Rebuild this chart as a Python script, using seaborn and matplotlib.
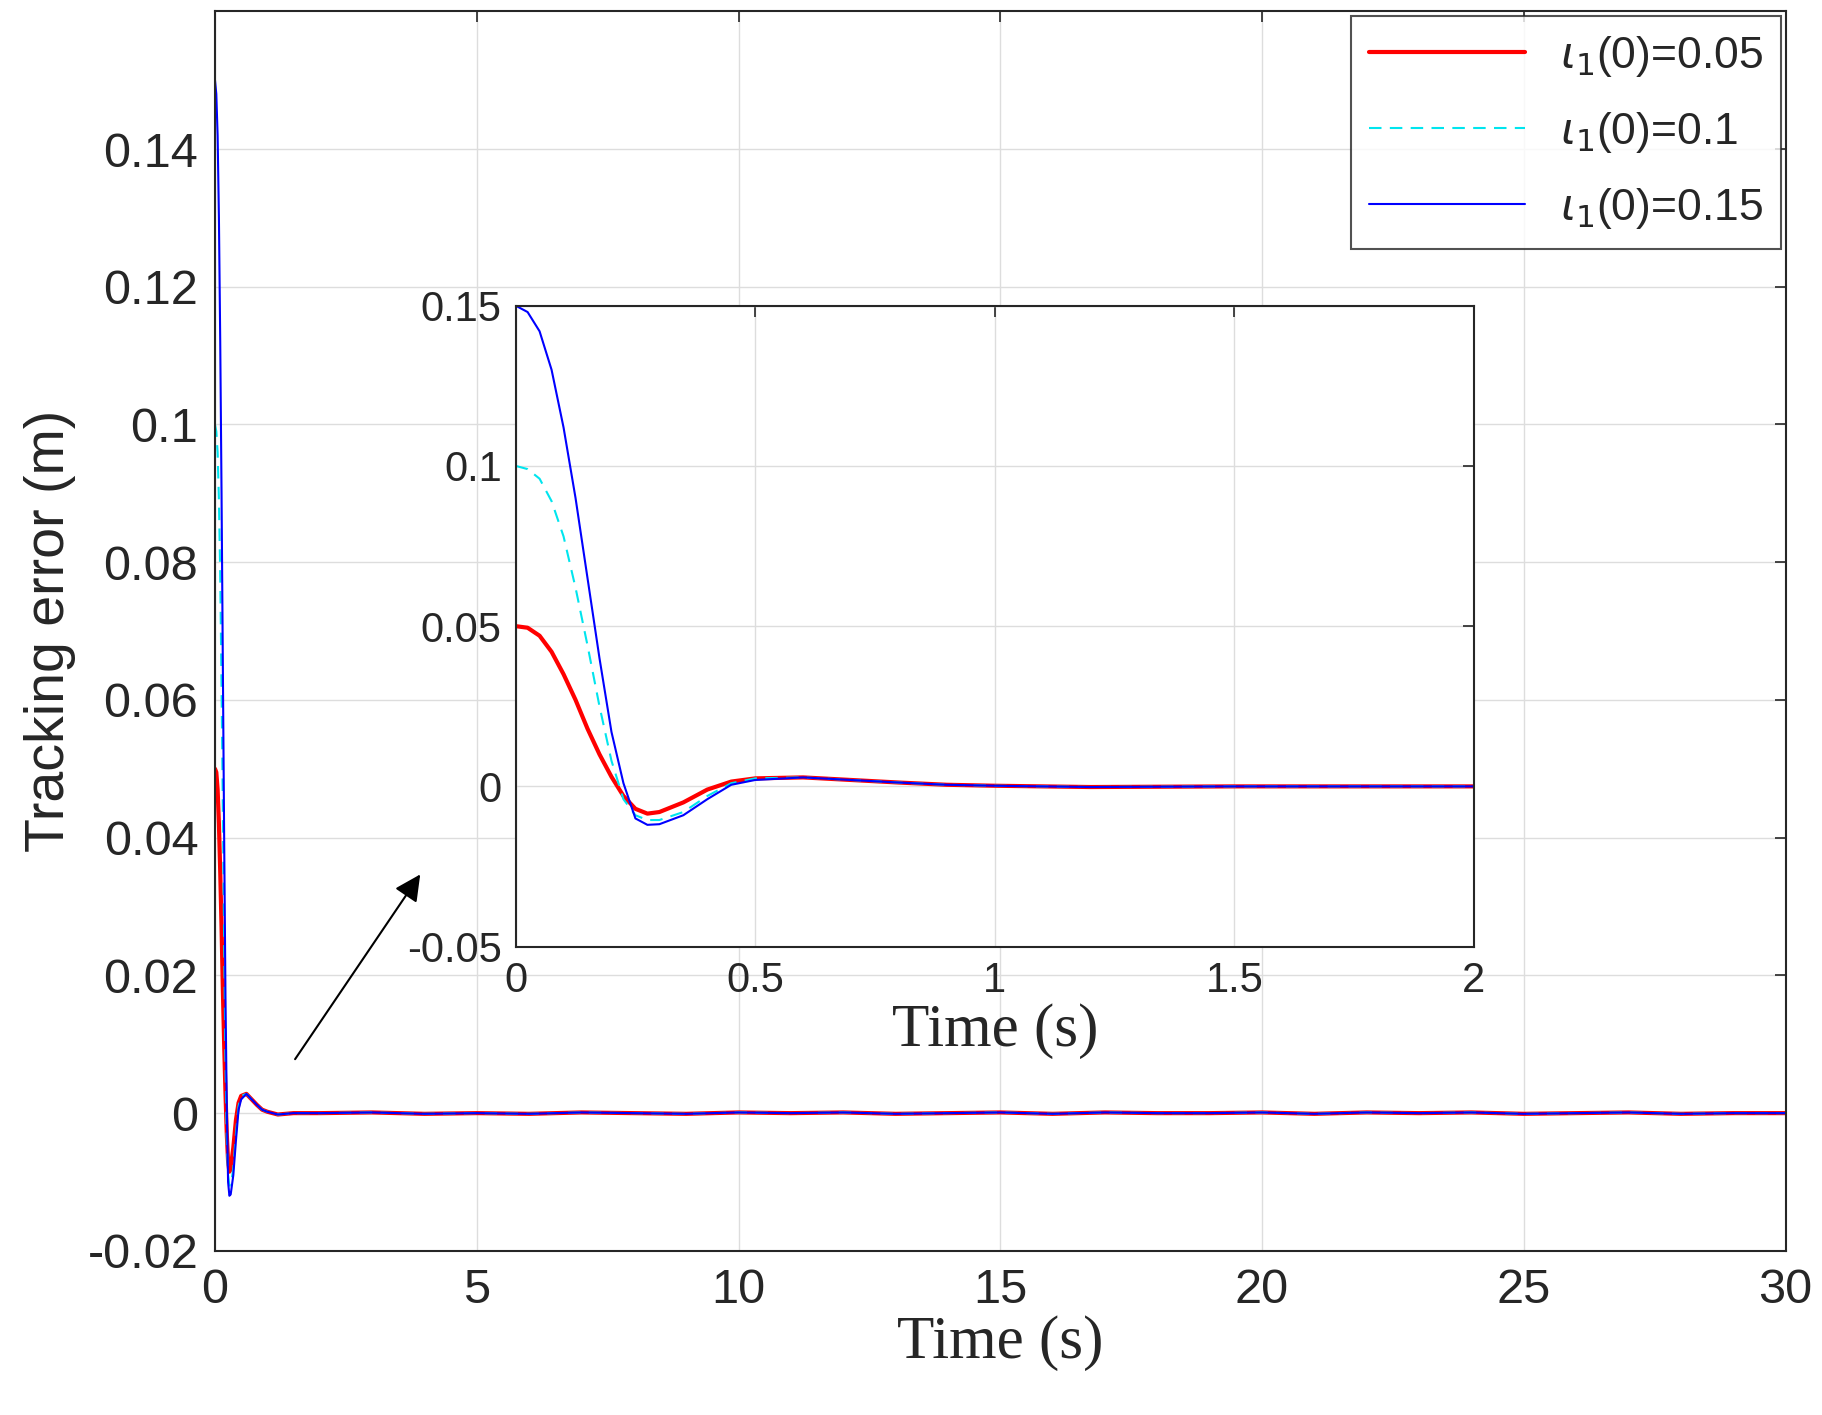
import matplotlib.pyplot as plt
import numpy as np
import pandas as pd
import seaborn as sns

# ====================================
# STYLE
# ====================================

sns.set_style('white')

plt.rcParams['font.family'] = ['Liberation Sans', 'DejaVu Sans']

plt.rcParams['mathtext.fontset'] = 'dejavusans'

# ====================================
# DATA
# ====================================

t_head = [0, 0.025, 0.05, 0.075, 0.1, 0.125, 0.15, 0.175, 0.2, 0.225, 0.25,
          0.275, 0.3, 0.35, 0.4, 0.45, 0.5, 0.6, 0.7, 0.8, 0.9, 1.0, 1.2,
          1.5, 2.0]

red_head = [0.05, 0.0495, 0.047, 0.042, 0.035, 0.027, 0.018, 0.010, 0.003,
            -0.003, -0.007, -0.0085, -0.008, -0.005, -0.001, 0.0015, 0.0025,
            0.0028, 0.002, 0.0012, 0.0005, 0.0002, -0.0002, 0.0, 0.0]

cyan_head = [0.1, 0.099, 0.096, 0.089, 0.078, 0.062, 0.044, 0.025, 0.008,
             -0.004, -0.009, -0.0105, -0.0105, -0.008, -0.003, 0.001, 0.0025,
             0.0028, 0.002, 0.0012, 0.0005, 0.0002, -0.0002, 0.0, 0.0]

blue_head = [0.15, 0.148, 0.142, 0.130, 0.112, 0.090, 0.065, 0.040, 0.017,
             0.001, -0.010, -0.012, -0.0118, -0.009, -0.004, 0.0005, 0.002,
             0.0028, 0.002, 0.0012, 0.0005, 0.0002, -0.0002, 0.0, 0.0]

t_tail = list(range(3, 31))

tail = [0.0001, -0.0001, 0.0, -0.0001, 0.0001, 0.0, -0.0001, 0.0001,
        0.0, 0.0001, -0.0001, 0.0, 0.0001, -0.0001, 0.0001, 0.0,
        0.0, 0.0001, -0.0001, 0.0001, 0.0, 0.0001, -0.0001, 0.0,
        0.0001, -0.0001, 0.0, 0.0]

labels = [r'$\iota_1$(0)=0.05', r'$\iota_1$(0)=0.1', r'$\iota_1$(0)=0.15']

frames = []

for lab, vals in zip(labels, [red_head, cyan_head, blue_head]):

    frames.append(pd.DataFrame({
        'Time': t_head + t_tail,
        'Error': vals + tail,
        'Case': lab
    }))

df = pd.concat(frames, ignore_index=True)

palette = {labels[0]: '#ff0000', labels[1]: '#00e5ee', labels[2]: '#0000ff'}

widths = {labels[0]: 3.0, labels[1]: 1.5, labels[2]: 1.5}

styles = {labels[0]: '-', labels[1]: (0, (6, 4)), labels[2]: '-'}

# ====================================
# MAIN PLOT
# ====================================

fig = plt.figure(figsize=(18.22, 14.15), dpi=100)

ax = fig.add_axes([0.118, 0.116, 0.862, 0.876])

for lab in labels:

    sns.lineplot(data=df[df['Case'] == lab], x='Time', y='Error',
                 color=palette[lab], linewidth=widths[lab],
                 linestyle=styles[lab], label=lab, ax=ax)

ax.set_xlim(0, 30)

ax.set_ylim(-0.02, 0.16)

ax.set_xticks(range(0, 31, 5))

ax.set_yticks([-0.02, 0, 0.02, 0.04, 0.06, 0.08, 0.1, 0.12, 0.14])

ax.set_yticklabels(['-0.02', '0', '0.02', '0.04', '0.06', '0.08', '0.1',
                    '0.12', '0.14'])

ax.tick_params(labelsize=35, direction='in', top=True, right=True,
               length=8, width=1.2, pad=12)

ax.grid(True, color='#dddddd', linewidth=1)

ax.set_xlabel('Time (s)', fontsize=44, family='Liberation Serif',
              labelpad=2)

ax.set_ylabel('Tracking error (m)', fontsize=40, labelpad=8)

for s in ax.spines.values():

    s.set_linewidth(1.5)

    s.set_color('#262626')

leg = ax.legend(loc='upper right', fontsize=32, fancybox=False,
                edgecolor='#262626', handlelength=3.5, borderaxespad=0.1,
                labelspacing=0.7)

leg.get_frame().set_linewidth(1.5)

ax.annotate('', xy=(3.95, 0.035), xytext=(1.5, 0.0075),
            arrowprops=dict(arrowstyle='-|>', color='black', lw=1.5,
                            mutation_scale=40))

# ====================================
# INSET
# ====================================

inset = fig.add_axes([0.283, 0.331, 0.526, 0.453])

for lab in labels:

    sub = df[(df['Case'] == lab) & (df['Time'] <= 2)]

    sns.lineplot(data=sub, x='Time', y='Error', color=palette[lab],
                 linewidth=widths[lab], linestyle=styles[lab], ax=inset,
                 legend=False)

inset.set_xlim(0, 2)

inset.set_ylim(-0.05, 0.15)

inset.set_xticks([0, 0.5, 1, 1.5, 2])

inset.set_xticklabels(['0', '0.5', '1', '1.5', '2'])

inset.set_yticks([-0.05, 0, 0.05, 0.1, 0.15])

inset.set_yticklabels(['-0.05', '0', '0.05', '0.1', '0.15'])

inset.tick_params(labelsize=30, direction='in', top=True, right=True,
                  length=8, width=1.2, pad=10)

inset.grid(True, color='#dddddd', linewidth=1)

inset.set_xlabel('Time (s)', fontsize=44, family='Liberation Serif',
                 labelpad=2)

inset.set_ylabel('')

for s in inset.spines.values():

    s.set_linewidth(1.5)

    s.set_color('#262626')

plt.savefig('out.png')

plt.close()
